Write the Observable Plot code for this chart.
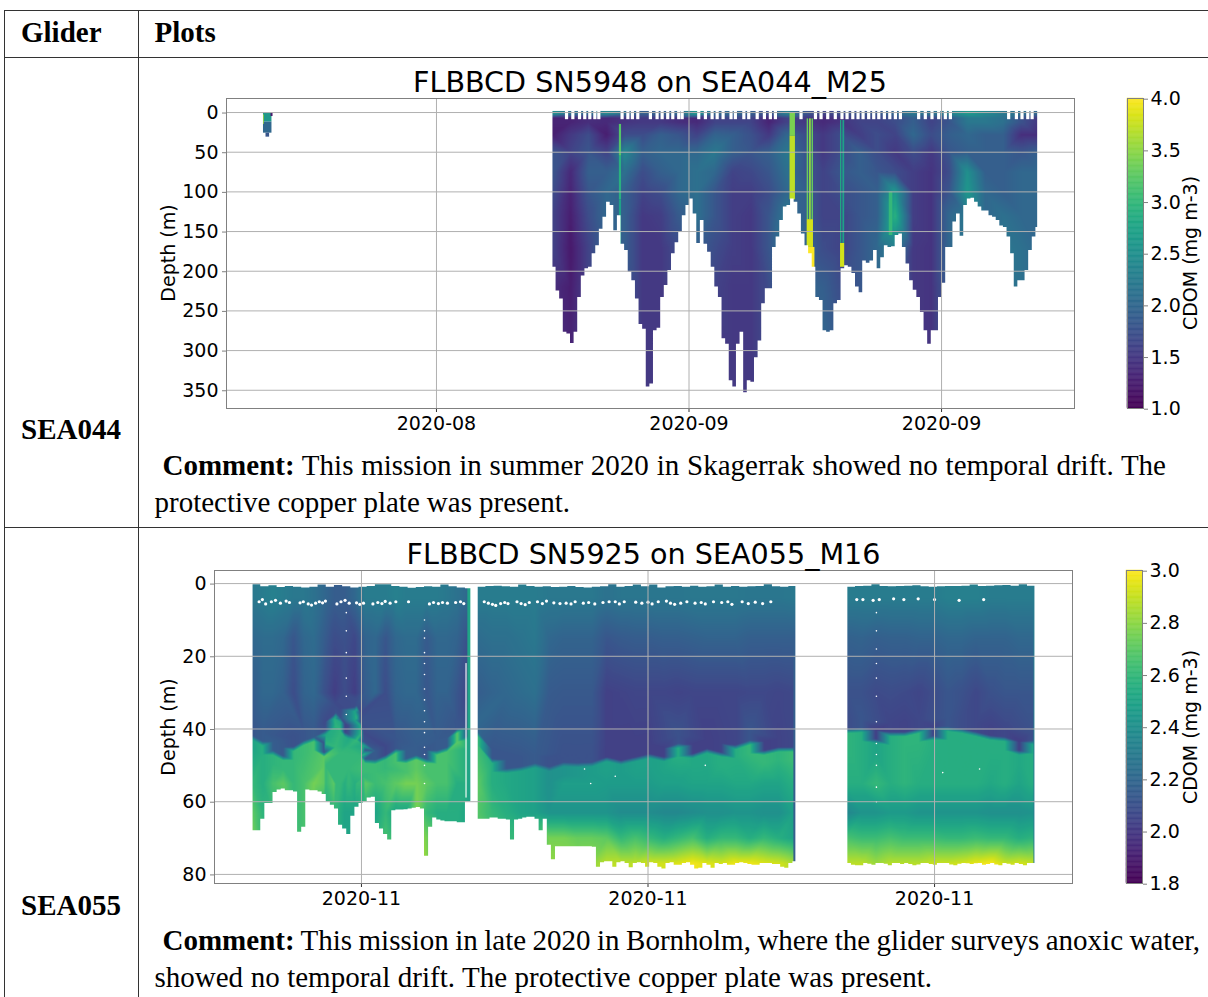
<!DOCTYPE html>
<html><head><meta charset="utf-8">
<script src="https://cdn.jsdelivr.net/npm/d3@7"></script>
<script src="https://cdn.jsdelivr.net/npm/@observablehq/plot@0.6"></script>
<style>
html,body{margin:0;padding:0;background:#fff;overflow:hidden}
#page{position:relative;width:1208px;height:997px;overflow:hidden}
.ln{position:absolute;background:#333}
.sf{position:absolute;font-family:"Liberation Serif",serif;font-size:29px;color:#000;white-space:nowrap;line-height:1}
.dj{position:absolute;font-family:"DejaVu Sans",sans-serif;color:#000;white-space:nowrap;line-height:1}
.plot{position:absolute;left:0}
.rot{transform:translate(-50%,-50%) rotate(-90deg);font-size:19px}
.ttl{transform:translateX(-50%);font-size:28.6px}
</style></head><body><div id="page"></div>
<script>
// ---------- SEA044 mission: tick labels, profiles ----------
const tickLabelsA = ["2020-08-22","2020-09-05","2020-09-19"];
const depthTicksA = [0,50,100,150,200,250,300,350];
const cbarTicksA = [1,1.5,2,2.5,3,3.5,4];
// bottom depth (m) of each 0.2-day column, from day 6.43 after first tick
const bottomA = [195,225,235,277,279,291,277,233,206,197,195,178,168,147,132,113,117,149,130,166,174,201,212,235,267,273,346,342,275,272,233,218,199,178,164,151,130,117,109,128,165,136,166,176,195,220,233,285,292,338,346,292,277,353,338,340,309,288,241,222,222,170,157,136,119,117,109,113,128,153,168,178,195,233,237,275,277,275,241,237,197,193,195,203,220,227,187,190,187,174,197,183,168,170,169,155,153,170,191,212,224,233,252,275,292,275,275,233,215,170,170,138,128,156,117,109,108,113,119,124,124,130,132,136,143,145,157,178,220,212,212,199,174,157,145];
// white surfacing notches (days after first tick)
const notchesA = [7.21,7.56,7.93,8.22,8.5,8.78,9,10.29,10.61,10.86,11.16,11.86,12.23,12.51,12.82,13.1,13.43,13.62,14.54,14.91,15.28,15.56,15.89,16.33,16.57,17.04,17.31,17.78,18.18,18.51,18.79,20.21,21.01,21.32,21.69,22.11,22.48,22.76,23.08,23.37,23.65,23.96,24.24,24.52,24.83,25.13,25.44,25.72,26.73,27.1,27.47,27.84,28.21,28.49,31.72,32.15,32.46,32.78,33.02];
const profileTimesA = [6.43,7.43,8.43,9.43,10.43,11.43,12.43,13.43,14.43,15.43,16.43,17.43,18.43,19.43,20.43,21.43,22.43,23.43,24.43,25.43,26.43,27.43,28.43,29.43,30.43,31.43,32.43,33.3];
const profileDepthsA = [0,12,28,50,75,100,130,170,220,300];
const profilesA = [
[2.5,1.3,1.25,1.8,1.8,1.7,1.6,1.6,1.4,1.4],
[2.1,1.3,1.5,1.6,1.35,1.3,1.25,1.2,1.25,1.3],
[2.0,1.4,1.7,1.8,1.9,1.8,1.7,1.6,1.6,1.6],
[2.4,1.35,1.25,1.6,1.9,2.0,2.0,2.0,1.9,1.9],
[2.1,1.45,1.7,2.4,2.1,1.9,1.9,1.9,1.8,1.7],
[1.9,1.5,1.7,1.9,1.7,1.6,1.5,1.5,1.5,1.5],
[1.9,1.5,1.9,2.0,1.9,1.7,1.55,1.5,1.5,1.5],
[2.0,1.4,1.8,2.0,2.0,2.0,1.85,1.7,1.6,1.5],
[2.6,1.35,1.6,2.0,2.1,2.1,2.1,1.9,1.7,1.6],
[2.0,1.6,1.95,2.2,2.0,1.8,1.8,1.7,1.6,1.5],
[2.0,1.6,1.9,1.9,1.6,1.55,1.55,1.55,1.5,1.5],
[1.9,1.6,1.75,1.8,1.65,1.55,1.5,1.5,1.5,1.5],
[1.7,1.3,1.5,1.9,1.8,1.7,1.8,1.8,1.7,1.7],
[2.3,1.6,2.0,2.2,2.1,2.0,2.2,2.3,2.1,2.0],
[1.8,1.5,1.7,1.8,1.8,1.9,1.9,2.0,2.0,2.0],
[1.6,1.35,1.5,1.5,1.6,1.6,1.6,1.7,1.9,2.0],
[1.7,1.45,1.7,1.7,1.8,1.7,1.6,1.6,1.7,1.8],
[1.8,1.6,1.55,1.9,1.9,1.8,1.8,1.8,1.8,1.8],
[1.8,1.6,1.7,1.7,1.8,1.9,1.9,2.0,2.0,2.0],
[2.0,1.7,1.6,1.5,1.7,2.6,2.9,2.3,2,2],
[2.2,1.9,2.0,1.7,1.55,1.55,1.55,1.5,1.5,1.5],
[2.1,1.6,1.7,1.5,1.45,1.45,1.45,1.45,1.45,1.45],
[2.3,1.8,1.9,1.8,1.7,1.8,2.0,2.0,1.9,1.9],
[2.6,2.2,2.0,1.9,2.5,2.6,2.2,2.1,2,2],
[2.4,2.2,1.9,1.9,1.9,2.0,2.0,2.0,2,2],
[2.2,2.1,1.9,1.9,1.9,1.9,2.1,2.2,2.2,2.2],
[2.1,1.75,1.4,1.8,2.0,2.0,2.0,2.1,2.1,2.1],
[2.0,1.5,1.4,1.9,2.0,2.0,2.0,2.0,2.0,2.0]];
// narrow high-CDOM streaks and first short profile: t1,t2,d1,d2,v
const patchesA = [
[-9.59,-9.12,0,12,2.6],[-9.59,-9.12,12,26,2.0],[-9.45,-9.25,26,31,1.8],[-9.17,-9.06,0,5,1.2],[-9.58,-9.54,3,15,3.6],
[10.14,10.26,15,55,3.2],[10.14,10.26,55,110,2.9],[10.14,10.26,110,170,2.7],
[19.6,19.9,0,30,3.4],[19.6,19.9,30,110,3.7],
[20.55,20.63,8,135,3.3],[20.68,20.78,8,135,3.5],[20.82,20.9,8,135,3.3],[20.55,20.9,135,170,3.8],[20.62,20.98,170,200,4.0],
[22.4,22.47,10,165,2.8],[22.53,22.63,10,165,2.7],[22.4,22.63,165,195,3.8],
[25.1,25.3,100,155,3.0]];

// ---------- SEA055 mission ----------
const tickLabelsB = ["2020-11-08","2020-11-15","2020-11-22"];
const depthTicksB = [0,20,40,60,80];
const cbarTicksB = [1.8,2,2.2,2.4,2.6,2.8,3];
const bottomSeg1 = [68,68,64.8,60.5,60.5,57.5,56.8,56.5,57,57,57.3,68.4,67,56.8,57,57,57.3,58,60,61,62,66.5,67.5,69,64,61.5,60.5,60,59,58.8,66,67.5,69,70.5,62.5,62.3,62.3,62.2,62,61.8,61.6,62,75,67,64.5,65,65.3,65.5,65.5,65.5,65.8,65.8,60,60];
const bottomSeg2 = [64.8,64.8,64.8,64.5,64.5,64.8,64.8,65,70.5,65,64.8,64.5,64.3,64.3,64.8,68,64.8,72,76,72.4,72.4,72.4,72.4,72.4,72.4,72.4,72.4,72.4,72.5,78,76.8,76.5,76.5,78,76.8,76.5,77,78.2,77,76.8,77,78,76.8,77,78,78.5,77,76.8,77.5,77.5,77,76.8,77.5,78.5,78.3,77,77.5,78.3,77,77.3,77,77.5,77.5,77,76.8,77,77.3,77.5,77.5,77,77,77,77.3,77.3,78,78.3,77,76.5];
const bottomSeg3 = [77,77.5,77.6,77.6,77,77.2,77.5,77,77,77.2,77.6,77,77,77.3,77,77.3,77.6,77.4,77,77,77.3,77.5,77,77,77,77.4,77.6,77.2,77,77.1,77.3,77.1,77,77.5,77.3,77,77.4,77.6,77,77.2,77.5,77,77.3,77.6,77,77];
const topSeg1 = [.3,.9,.6,1.1,.8,1,1.2,1,.4,1,.5,.9,1.2,1,.8,.3,.3,.8,1,1.3,1.1,.9,1,.4,.9,1.2,1.4];
const topSeg2 = [1,.8,.7,.9,1,.4,.8,1,.9,1.1,1,.8,1.1,1.2,1,.9,.3,1,.8,.4,.9,.4,1.2,.9,.8,1,.7,1,.9,.4,1,.8,1,.9,.8,.3,.9,1,.8];
const topSeg3 = [1,.8,.7,.3,.8,.9,.8,.7,.6,.9,1,.9,.8,.8,.7,.4,.8,.7,.6,.5,.7,.3,.7];
const seg1 = {t0:-2.66, step:.25,
 iface:[42.4,44,46.5,48,45.5,43.8,42.8,47,36.5,41.5,34.5,48.8,49,47.8,46,48.8,47.8,48.8,46.5,45.6,40.5,42.4],
 surf:[2.28,2.3,2.32,2.3,2.28,2.28,2.25,2.2,2.15,2.15,2.2,2.3,2.3,2.3,2.32,2.3,2.3,2.3,2.3,2.28,2.25,2.2],
 d15:[2.2,2.22,2.22,2.2,2.12,2.2,2.22,2.15,2.08,2.1,2.06,2.18,2.2,2.12,2.2,2.22,2.22,2.14,2.2,2.2,2.18,2.1],
 d30:[2.15,2.2,2.2,2.17,2.08,2.18,2.2,2.1,2.02,2.08,2.02,2.15,2.2,2.08,2.18,2.2,2.2,2.12,2.18,2.18,2.12,2.05],
 above:[2.12,2.14,2.15,2.13,2.1,2.12,2.14,2.1,2.08,2.05,2.08,2.12,2.14,2.06,2.12,2.15,2.15,2.12,2.14,2.14,2.12,2.1],
 below:[2.5,2.55,2.58,2.6,2.6,2.62,2.65,2.7,2.55,2.55,2.5,2.62,2.62,2.6,2.65,2.65,2.7,2.65,2.65,2.65,2.7,2.55],
 d55:[2.6,2.55,2.65,2.7,2.6,2.65,2.75,2.7,2.7,2.55,2.55,2.7,2.62,2.65,2.7,2.75,2.75,2.7,2.65,2.65,2.55,2.55],
 d63:[2.7,2.58,2.6,2.6,2.6,2.65,2.7,2.55,2.6,2.5,2.5,2.55,2.5,2.6,2.5,2.5,2.75,2.6,2.55,2.55,2.55,2.5],
 d70:[2.75,2.6,2.6,2.6,2.65,2.65,2.7,2.55,2.6,2.5,2.5,2.55,2.55,2.65,2.6,2.6,2.85,2.75,2.6,2.55,2.55,2.5],
 d77:[2.8,2.6,2.6,2.6,2.65,2.65,2.7,2.55,2.6,2.5,2.5,2.55,2.55,2.7,2.65,2.65,2.92,2.8,2.6,2.55,2.55,2.5]};
// extra interface readings around the two deep intrusions: t, depth
const ifaceExtra1 = [[-.88,41],[-.635,36],[-.51,37.5],[-.32,42],[-.12,34],[-.02,38.5],[.05,44]];
const seg2 = {t0:2.84, step:.35,
 iface:[41.4,48.8,51.5,51,50,51,49.7,49.9,49.7,48.3,49.2,48.3,47.4,48.3,44.6,47.4,46,47,45,43.7,46.5,45.6,45.6],
 surf:[2.3,2.3,2.3,2.3,2.3,2.28,2.28,2.28,2.28,2.25,2.27,2.27,2.27,2.27,2.27,2.28,2.28,2.28,2.28,2.27,2.27,2.27,2.28],
 d15:[2.22,2.24,2.24,2.26,2.28,2.2,2.18,2.18,2.18,2.12,2.14,2.15,2.15,2.16,2.16,2.17,2.18,2.18,2.18,2.16,2.16,2.16,2.16],
 d30:[2.15,2.18,2.2,2.22,2.24,2.14,2.13,2.13,2.13,2.03,2.04,2.05,2.05,2.05,2.04,2.05,2.05,2.05,2.05,2.06,2.06,2.05,2.06],
 above:[2.2,2.12,2.12,2.12,2.14,2.1,2.1,2.1,2.1,2.03,2.03,2.03,2.03,2.03,2.1,2.03,2.03,2.04,2.05,2.12,2.03,2.04,2.06],
 below:[2.62,2.55,2.52,2.5,2.48,2.4,2.42,2.44,2.46,2.48,2.46,2.48,2.48,2.5,2.55,2.52,2.52,2.55,2.55,2.6,2.6,2.58,2.62],
 d55:[2.7,2.55,2.5,2.48,2.48,2.45,2.47,2.47,2.47,2.46,2.46,2.46,2.46,2.48,2.48,2.5,2.5,2.5,2.52,2.52,2.5,2.5,2.55],
 d63:[2.68,2.6,2.55,2.5,2.48,2.42,2.42,2.42,2.42,2.42,2.38,2.38,2.38,2.36,2.36,2.38,2.4,2.4,2.42,2.42,2.4,2.4,2.48],
 d70:[2.6,2.65,2.6,2.6,2.6,2.75,2.75,2.72,2.72,2.7,2.6,2.65,2.6,2.55,2.6,2.65,2.55,2.6,2.6,2.55,2.6,2.55,2.5],
 d77:[2.6,2.6,2.6,2.6,2.6,2.8,2.78,2.78,2.8,2.88,2.88,2.88,2.92,2.92,2.94,2.98,2.94,2.92,2.97,2.97,2.94,2.92,2.86]};
const seg3 = {t0:11.87, step:.35,
 iface:[40.5,40.3,43.3,41.4,41.4,40.5,42.4,40,40.5,41.4,42.4,42.8,46.5,43.7],
 surf:[2.3,2.3,2.3,2.3,2.3,2.3,2.3,2.32,2.32,2.32,2.3,2.3,2.3,2.3],
 d15:[2.17,2.18,2.16,2.17,2.17,2.18,2.18,2.2,2.2,2.18,2.18,2.18,2.2,2.2],
 d30:[2.1,2.1,2.07,2.08,2.07,2.05,2.08,2.12,2.1,2.06,2.1,2.12,2.12,2.12],
 above:[2.08,2.12,2.02,2.05,2.04,2.06,2.04,2.12,2.08,2.06,2.04,2.06,2.02,2.1],
 below:[2.58,2.55,2.5,2.55,2.58,2.58,2.55,2.55,2.55,2.55,2.55,2.55,2.52,2.55],
 d55:[2.55,2.55,2.6,2.55,2.58,2.55,2.55,2.55,2.55,2.55,2.52,2.55,2.5,2.55],
 d63:[2.35,2.42,2.42,2.45,2.45,2.42,2.42,2.42,2.42,2.42,2.4,2.4,2.4,2.42],
 d70:[2.65,2.62,2.62,2.65,2.62,2.62,2.62,2.6,2.6,2.62,2.6,2.6,2.55,2.58],
 d77:[2.88,2.88,2.82,2.87,2.87,2.87,2.9,2.9,2.92,2.96,2.99,2.9,2.92,2.9]};
// white speckle band near 5 m: [t, depth]
const specksBand = [[-2.5,5],[-2.42,4.4],[-2.34,5.6],[-2.2,5],[-2.1,4.6],[-1.98,5.4],[-1.84,4.8],[-1.76,5.2],[-1.5,5.3],[-1.42,5],[-1.3,5.6],[-1.22,5.9],[-1.12,5.4],[-1.03,5],[-.95,5.3],[-.88,4.8],[-.6,5.6],[-.5,5],[-.4,4.6],[-.3,5.4],[-.12,5.3],[-.04,5.7],[.05,5.4],[.28,5.6],[.4,5.2],[.5,5.5],[.58,4.9],[.7,5.4],[.84,5],[1.15,5],[1.66,5.6],[1.76,5.2],[1.88,5.5],[1.98,5.2],[2.1,5.4],[2.3,5.2],[2.42,5],[2.5,5.5],
[3,5],[3.1,5.4],[3.2,5.7],[3.28,6],[3.4,5.5],[3.5,5.2],[3.58,5.5],[3.8,5],[3.9,5.5],[4,5.8],[4.1,5.2],[4.3,5],[4.42,5.5],[4.52,4.8],[4.7,5.3],[4.85,5.5],[5,5.4],[5.12,5.6],[5.22,5],[5.42,5.4],[5.55,5.2],[5.7,5.6],[5.9,5.2],[6.05,5],[6.2,5],[6.3,5.6],[6.42,5],[6.7,5.1],[6.85,5.4],[7,5.1],[7.1,5.6],[7.25,5],[7.45,4.8],[7.55,5.4],[7.65,5.7],[7.8,5.4],[7.95,5],[8.15,5.4],[8.3,5.2],[8.4,5.6],[8.6,5],[8.8,5.2],[8.95,5],[9.05,5.7],[9.3,5],[9.45,5.5],[9.62,5.1],[9.8,5.5],[10,5],
[12.1,4.4],[12.25,4.4],[12.5,4.6],[12.65,4.4],[13,4.2],[13.25,4.4],[13.6,4.2],[14,4.4],[14.6,4.6],[15.2,4.4]];
// faint white dotted profile gaps and isolated specks
const specksFaint = [[1.54,10],[1.54,13],[1.54,15],[1.54,19],[1.54,22],[1.54,25],[1.54,29],[1.54,32],[1.54,35],[1.54,38],[1.54,41],[1.54,45],[1.54,47],[1.54,50],[1.54,55],
[-.37,8],[-.37,13],[-.37,19],[-.37,26],[-.37,31],[-.37,36],
[12.58,8],[12.58,13],[12.58,18],[12.58,22],[12.58,26],[12.58,31],[12.58,38],[12.58,44],[12.58,47],[12.58,50],[12.58,56],[12.58,60],
[8.4,50],[6.2,53],[5.45,51],[5.6,55],[14.2,52],[15.1,51]];

const dayA0 = Date.UTC(2020,7,22), dayB0 = Date.UTC(2020,10,8);
const dA = t => new Date(dayA0 + t*864e5), dB = t => new Date(dayB0 + t*864e5);
const fontFam = '"DejaVu Sans",sans-serif';
const fmtYM = d3.utcFormat("%Y-%m");
const page = document.getElementById("page");
const gridOpt = {stroke:"#b0b0b0",strokeOpacity:1,strokeWidth:1};
const edge = "#808080";

function addPlot(node, top, left){node.style.position="absolute";node.style.top=top+"px";node.style.left=(left||0)+"px";node.style.overflow="visible";page.appendChild(node);}

// ---- top chart ----
const rowsA = [[-2,0],[1.5,0],[7,1],[12,1],[28,2],[50,3],[75,4],[100,5],[130,6],[170,7],[220,8],[300,9],[375,9]];
const gridA = profileTimesA.flatMap((t,i)=>rowsA.map(([d,k])=>({t:dA(t),d,v:profilesA[i][k]})));
const silA = bottomA.map((b,i)=>({t:dA(6.43+.2*i),b})); silA.push({t:dA(33.4),b:bottomA[bottomA.length-1]});
const patchA = patchesA.map(([a,b,c,e,v])=>({t1:dA(a),t2:dA(b),d1:c,d2:e,v}));
const plotA = Plot.plot({
  width:1208,height:360,marginLeft:226,marginRight:134,marginTop:8,marginBottom:42,
  style:{fontFamily:fontFam,fontSize:"19px",background:"transparent",color:"#000"},
  x:{type:"utc",domain:[dA(-11.64),dA(35.37)]},
  y:{domain:[373,-17.7]},
  color:{type:"linear",scheme:"viridis",domain:[1,4],clamp:true},
  marks:[
    Plot.raster(gridA,{x:"t",y:"d",fill:"v",interpolate:"barycentric",x1:dA(6.43),x2:dA(33.3),y1:-2,y2:370}),
    Plot.rect(patchA,{x1:"t1",x2:"t2",y1:"d1",y2:"d2",fill:"v"}),
    Plot.areaY(silA,{x:"t",y1:"b",y2:()=>372,curve:"step-after",fill:"white"}),
    Plot.ruleX(notchesA,{x:dA,y1:()=>-2,y2:()=>9,stroke:"white",strokeWidth:3.2}),
    Plot.gridY({ticks:depthTicksA,...gridOpt}),
    Plot.gridX({ticks:tickLabelsA.map(s=>new Date(s)),...gridOpt}),
    Plot.axisY({ticks:depthTicksA,label:null,tickSize:4,tickPadding:4,stroke:edge,dy:.5}),
    Plot.axisX({ticks:tickLabelsA.map(s=>new Date(s)),tickFormat:fmtYM,label:null,tickSize:4,tickPadding:4,stroke:"#333"}),
    Plot.frame({stroke:edge})
  ]});
addPlot(plotA,90);

// ---- bottom chart ----
const lowerDepths = [55,63,70,77];
function segGrid(s,extra){
  const out=[];
  s.iface.forEach((f,i)=>{
    const t=dB(s.t0+s.step*i);
    out.push({t,d:-4,v:s.surf[i]},{t,d:4,v:s.surf[i]},{t,d:15,v:s.d15[i]});
    if(f-3>30) out.push({t,d:30,v:s.d30[i]});
    out.push({t,d:f-3,v:s.above[i]},{t,d:f-.6,v:s.above[i]},{t,d:f+.6,v:s.below[i]},{t,d:f+3,v:s.below[i]});
    lowerDepths.forEach(d=>{ if(d>f+5) out.push({t,d,v:s["d"+d][i]}); });
    out.push({t,d:83,v:s.d77[i]});
  });
  (extra||[]).forEach(([t,f])=>{
    const tt=dB(t);
    out.push({t:tt,d:f-3,v:2.07},{t:tt,d:f-.6,v:2.1},{t:tt,d:f+.6,v:2.52},{t:tt,d:f+3,v:2.58},{t:tt,d:f+9,v:2.6},{t:tt,d:55,v:2.6});
  });
  return out;
}
const sil = (arr,t0,tEnd)=>{const a=arr.map((b,i)=>({t:dB(t0+.1*i),b}));a.unshift({t:dB(t0-.06),b:arr[0]});a.push({t:dB(tEnd+.06),b:arr[arr.length-1]});return a;};
const topSil = (arr,t0,tEnd)=>{const a=arr.map((b,i)=>({t:dB(t0+.2*i),b}));a.unshift({t:dB(t0-.06),b:arr[0]});a.push({t:dB(tEnd+.06),b:arr[arr.length-1]});return a;};
const segMarks = [[seg1,bottomSeg1,topSeg1,2.66,ifaceExtra1],[seg2,bottomSeg2,topSeg2,10.6],[seg3,bottomSeg3,topSeg3,16.44]].flatMap(([s,b,tp,end,ex])=>[
  Plot.raster(segGrid(s,ex),{x:"t",y:"d",fill:"v",interpolate:"barycentric",x1:dB(s.t0),x2:dB(end),y1:-3,y2:82}),
  Plot.areaY(sil(b,s.t0,end),{x:"t",y1:"b",y2:()=>82.2,curve:"step-after",fill:"white"}),
  Plot.areaY(topSil(tp,s.t0,end),{x:"t",y1:()=>-3.3,y2:"b",curve:"step-after",fill:"white"})
]);
const plotB = Plot.plot({
  width:1208,height:360,marginLeft:214,marginRight:136,marginTop:8,marginBottom:39,
  style:{fontFamily:fontFam,fontSize:"19px",background:"transparent",color:"#000"},
  x:{type:"utc",domain:[dB(-3.59),dB(17.37)]},
  y:{domain:[82.5,-3.6]},
  color:{type:"linear",scheme:"viridis",domain:[1.8,3],clamp:true},
  marks:[
    ...segMarks,
    Plot.dot(specksBand,{x:d=>dB(d[0]),y:d=>d[1],r:1.6,fill:"white",stroke:"none"}),
    Plot.dot(specksFaint,{x:d=>dB(d[0]),y:d=>d[1],r:.8,fill:"white",stroke:"none"}),
    Plot.rect([{a:2.553,b:2.58,c:22,e:59}],{x1:d=>dB(d.a),x2:d=>dB(d.b),y1:"c",y2:"e",fill:"white"}),
    Plot.gridY({ticks:depthTicksB,...gridOpt}),
    Plot.gridX({ticks:tickLabelsB.map(s=>new Date(s)),...gridOpt}),
    Plot.axisY({ticks:depthTicksB,label:null,tickSize:4,tickPadding:4,stroke:edge,dy:.5}),
    Plot.axisX({ticks:tickLabelsB.map(s=>new Date(s)),tickFormat:fmtYM,label:null,tickSize:4,tickPadding:4,stroke:"#333"}),
    Plot.frame({stroke:edge})
  ]});
addPlot(plotB,562);

// ---- colour bars ----
function colorbar(domain,ticks,top,left,h,w,fmt){
  const n=255, lo=domain[0], hi=domain[1];
  const bins=d3.range(n).map(i=>({a:lo+(hi-lo)*i/n,b:lo+(hi-lo)*(i+1)/n}));
  const p=Plot.plot({
    width:w+60,height:h+20,marginLeft:0,marginRight:60,marginTop:10,marginBottom:10,
    style:{fontFamily:fontFam,fontSize:"19px",background:"transparent",color:"#000"},
    x:{axis:null,domain:[0,1]},
    y:{domain},
    color:{type:"linear",scheme:"viridis",domain},
    marks:[
      Plot.rect(bins,{x1:()=>0,x2:()=>1,y1:"a",y2:"b",fill:d=>d.a,stroke:d=>d.a,strokeWidth:.5}),
      Plot.axisY({anchor:"right",ticks,tickFormat:fmt,label:null,tickSize:4,tickPadding:3,stroke:edge,dy:.7}),
      Plot.frame({stroke:edge})
    ]});
  addPlot(p,top-10,left);
}
colorbar([1,4],cbarTicksA,98,1127,310,16,d3.format(".1f"));
colorbar([1.8,3],cbarTicksB,570,1126,313,16,d3.format(".1f"));

// ---- page text and table rules ----
function line(x,y,w,h){const d=document.createElement("div");d.className="ln";d.style.cssText=`left:${x}px;top:${y}px;width:${w}px;height:${h}px`;page.appendChild(d);}
line(4,9.5,1204,1);line(4,57,1204,1);line(4,527,1204,1);line(4,9.5,1,988);line(138,9.5,1,988);
function serif(html,x,base,right){
  const d=document.createElement("div");d.className="sf";d.innerHTML=html;d.style.left=x+"px";d.style.top=(base-24)+"px";page.appendChild(d);
  if(right!=null){const w=d.getBoundingClientRect().width;const n=(d.textContent.match(/ /g)||[]).length;d.style.wordSpacing=((right-x-w)/n)+"px";}
}
serif("<b>Glider</b>",21,42);serif("<b>Plots</b>",154.5,42);
serif("<b>SEA044</b>",21,439);serif("<b>SEA055</b>",21,915);
serif("<b>Comment:</b> This mission in summer 2020 in Skagerrak showed no temporal drift. The",162.5,475,1166);
serif("protective copper plate was present.",154.5,512,570);
serif("<b>Comment:</b> This mission in late 2020 in Bornholm, where the glider surveys anoxic water,",162.5,950,1200);
serif("showed no temporal drift. The protective copper plate was present.",154.5,987,932);
function dj(txt,x,y,cls){const d=document.createElement("div");d.className="dj "+cls;d.textContent=txt;d.style.left=x+"px";d.style.top=y+"px";page.appendChild(d);}
dj("FLBBCD SN5948 on SEA044_M25",650,68,"ttl");
dj("FLBBCD SN5925 on SEA055_M16",643.5,540,"ttl");
dj("Depth (m)",168,253,"rot");dj("Depth (m)",168,727,"rot");
dj("CDOM (mg m-3)",1190,253,"rot");dj("CDOM (mg m-3)",1190,727,"rot");
</script></body></html>
